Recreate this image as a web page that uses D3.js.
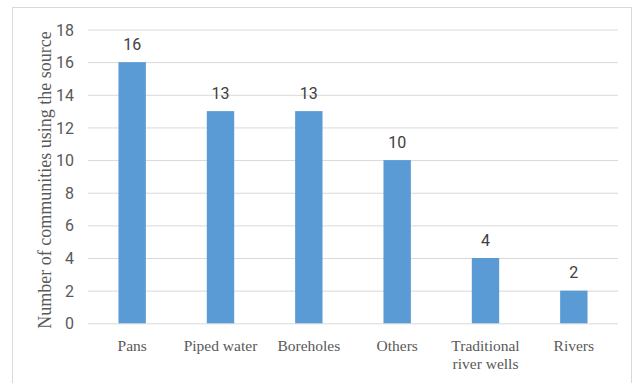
<!DOCTYPE html>
<html lang="en">
<head>
<meta charset="utf-8">
<title>Water sources</title>
<script src="https://cdn.jsdelivr.net/npm/d3@7"></script>
<style>
  body { margin: 0; background: #fff; }
  .tick text { font-family: Roboto, "Open Sans", sans-serif; font-size: 16px; fill: #595959; }
  .cat text { font-family: "Liberation Serif", serif; font-size: 15.5px; fill: #595959; }
  .lbl { font-family: Roboto, "Open Sans", sans-serif; font-size: 16px; fill: #404040; text-anchor: middle; }
  .ytitle { font-family: "Liberation Serif", serif; font-size: 18px; fill: #595959; text-anchor: middle; }
</style>
</head>
<body>
<svg id="chart"></svg>
<script>
var categories = [["Pans"], ["Piped water"], ["Boreholes"], ["Others"], ["Traditional", "river wells"], ["Rivers"]];
var values = [16, 13, 13, 10, 4, 2];
var yTicks = [0, 2, 4, 6, 8, 10, 12, 14, 16, 18];

var width = 633, height = 383;
var margin = {left: 88, right: 15, top: 29.5, bottom: 59.7};

var svg = d3.select('#chart').attr('width', width).attr('height', height);

// outer frame
svg.append('rect')
  .attr('x', 12.5).attr('y', 7.5)
  .attr('width', 619).attr('height', 390)
  .attr('fill', 'none').attr('stroke', '#d9d9d9').attr('stroke-width', 1);

var x = d3.scaleBand()
  .domain(d3.range(categories.length))
  .range([margin.left, width - margin.right])
  .paddingInner(0.69).paddingOuter(0.345);

var y = d3.scaleLinear().domain([0, 18]).range([height - margin.bottom, margin.top]);

// gridlines + tick labels
var yAxis = svg.append('g')
  .attr('transform', 'translate(' + margin.left + ',0)')
  .call(d3.axisLeft(y).tickValues(yTicks).tickSize(-(width - margin.left - margin.right)).tickPadding(14));
yAxis.select('.domain').remove();
yAxis.selectAll('.tick line').attr('stroke', '#d9d9d9');
yAxis.selectAll('.tick text').attr('dy', '0.35em');

svg.selectAll('rect.bar')
  .data(values)
  .enter().append('rect')
  .attr('class', 'bar')
  .attr('x', function(d, i) { return x(i); })
  .attr('width', x.bandwidth())
  .attr('y', function(d) { return y(d); })
  .attr('height', function(d) { return y(0) - y(d); })
  .attr('fill', '#5b9bd5');

svg.selectAll('text.lbl')
  .data(values)
  .enter().append('text')
  .attr('class', 'lbl')
  .attr('x', function(d, i) { return x(i) + x.bandwidth() / 2; })
  .attr('y', function(d) { return y(d) - 12.5; })
  .text(function(d) { return d; });

var cat = svg.append('g').attr('class', 'cat');
categories.forEach(function(lines, i) {
  var t = cat.append('text')
    .attr('x', x(i) + x.bandwidth() / 2)
    .attr('y', 351)
    .attr('text-anchor', 'middle');
  lines.forEach(function(s, j) {
    t.append('tspan').attr('x', x(i) + x.bandwidth() / 2).attr('dy', j === 0 ? 0 : 18).text(s);
  });
});

svg.append('text')
  .attr('class', 'ytitle')
  .attr('transform', 'translate(51,180) rotate(-90)')
  .text('Number of communities using the source');
</script>
</body>
</html>
